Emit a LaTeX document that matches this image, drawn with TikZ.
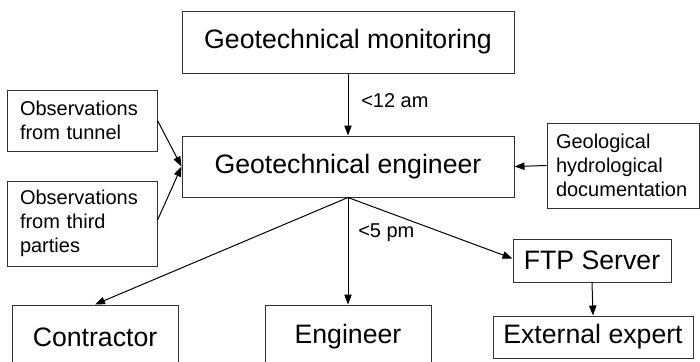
\documentclass[tikz,border=0pt]{standalone}
\usepackage{fontspec}
\setmainfont{Liberation Sans}
\usetikzlibrary{arrows.meta}
\begin{document}
\begin{tikzpicture}[x=0.75pt,y=-0.75pt,
  box/.style={draw=black!80,line width=0.75pt,rectangle,inner sep=0pt,font=\fontsize{20}{24}\selectfont,align=center},
  sbox/.style={draw=black!80,line width=0.75pt,rectangle,inner ysep=0pt,font=\fontsize{15}{18}\selectfont,align=left},
  arr/.style={draw=black,line width=0.75pt,-{Triangle[length=7.5pt,width=5.5pt]}},
  lbl/.style={font=\fontsize{15}{18}\selectfont,inner sep=0pt,anchor=west}]
\useasboundingbox (0,0) rectangle (700,361);
\clip (0,0) rectangle (700,361);
\fill[white] (0,0) rectangle (700,361);
\node[box,minimum width=249pt,minimum height=46.5pt] (mon) at (348,42) {Geotechnical monitoring};
\node[box,minimum width=249pt,minimum height=45.75pt] (eng) at (348,166.5) {Geotechnical engineer};
\node[sbox,minimum height=45.75pt,inner xsep=9.75pt,text width=93pt] (tun) at (82,120.5) {Observations\\from tunnel};
\node[sbox,minimum height=63.75pt,inner xsep=9.75pt,text width=93pt] (third) at (82,223.5) {Observations\\from third\\parties};
\node[sbox,minimum height=63.75pt,inner xsep=6.75pt,text width=100.5pt] (geo) at (623,165.5) {Geological\\hydrological\\documentation};
\node[box,minimum width=118.5pt,minimum height=32.25pt] (ftp) at (592,260.5) {FTP Server};
\node[box,minimum width=150pt,minimum height=31.5pt] (ext) at (593,337) {External expert};
\node[box,minimum width=124.5pt,minimum height=48pt] (con) at (95,337) {Contractor};
\node[box,minimum width=124.5pt,minimum height=48pt] (engr) at (348,337) {Engineer};
\draw[arr] (mon.south) -- (eng.north);
\draw[arr] (tun.east) -- (eng.west);
\draw[arr] ([yshift=2.5pt]third.east) -- (eng.west);
\draw[arr] (geo.west) -- (eng.east);
\draw[arr] (eng.south) -- (con.north);
\draw[arr] (eng.south) -- (engr.north);
\draw[arr] (eng.south) -- ([yshift=1.5pt]ftp.west);
\draw[arr] (ftp.south) -- (ext.north);
\node[lbl] (l12) at (361,101) {<12 am};
\node[lbl] (l5) at (358,233) {<5 pm};
\end{tikzpicture}
\end{document}
